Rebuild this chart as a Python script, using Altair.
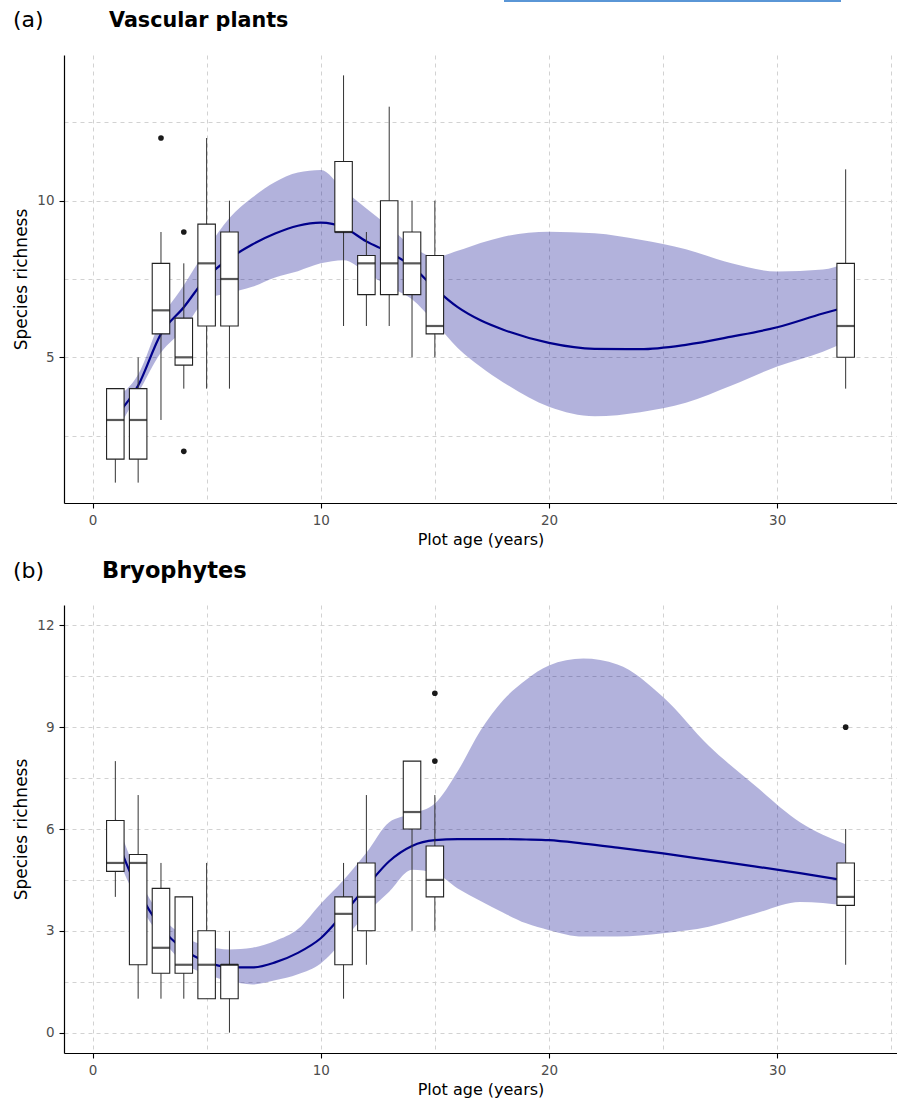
import altair as alt
import pandas as pd

# ---------------- Panel (a): Vascular plants ----------------
a_age = [1, 2, 3, 4, 5, 6, 11, 12, 13, 14, 15, 33]
a_wlo = [1, 1, 3, 4, 4, 4, 6, 6, 6, 5, 5, 4]
a_q1 = [1.75, 1.75, 5.75, 4.75, 6, 6, 9, 7, 7, 7, 5.75, 5]
a_med = [3, 3, 6.5, 5, 8, 7.5, 9, 8, 8, 8, 6, 6]
a_q3 = [4, 4, 8, 6.25, 9.25, 9, 11.25, 8.25, 10, 9, 8.25, 8]
a_whi = [4, 5, 9, 8, 12, 10, 14, 9, 13, 10, 10, 11]
a_out_age = [3, 4, 4]
a_out_val = [12, 9, 2]

a_fit_age = [1, 2, 3, 4, 5, 6, 7, 8, 9, 10, 11, 12, 13, 14, 15, 16, 17, 18,
             20, 22, 24, 26, 28, 30, 32, 33]
a_fit = [3.1, 4.1, 5.75, 6.6, 7.55, 8.15, 8.6, 8.95, 9.2, 9.3, 9.15, 8.7, 8.35,
         7.9, 7.2, 6.6, 6.18, 5.88, 5.46, 5.27, 5.26, 5.4, 5.66, 5.96, 6.4, 6.6]
a_fit_hi = [3.7, 4.45, 6.2, 7.3, 8.45, 9.45, 10.1, 10.6, 10.9, 10.98, 10.35,
            9.75, 9.17, 8.55, 8.2, 8.4, 8.65, 8.85, 9.01, 8.96, 8.75, 8.45,
            8.0, 7.74, 7.8, 8.0]
a_fit_lo = [2.55, 3.85, 5.15, 5.9, 6.85, 7.05, 7.25, 7.55, 7.75, 8.0, 8.1, 7.7,
            7.25, 6.85, 6.1, 5.3, 4.7, 4.2, 3.42, 3.12, 3.25, 3.55, 4.1,
            4.71, 5.18, 5.5]

# ---------------- Panel (b): Bryophytes ----------------
b_age = [1, 2, 3, 4, 5, 6, 11, 12, 14, 15, 33]
b_wlo = [4, 1, 1, 1, 1, 0, 1, 2, 3, 3, 2]
b_q1 = [4.75, 2, 1.75, 1.75, 1, 1, 2, 3, 6, 4, 3.75]
b_med = [5, 5, 2.5, 2, 2, 2, 3.5, 4, 6.5, 4.5, 4]
b_q3 = [6.25, 5.25, 4.25, 4, 3, 2, 4, 5, 8, 5.5, 5]
b_whi = [8, 7, 5, 4, 5, 3, 5, 7, 8, 7, 6]
b_out_age = [15, 15, 33]
b_out_val = [10, 8, 9]

b_fit_age = [1, 2, 3, 4, 5, 6, 7, 8, 9, 10, 11, 12, 13, 14, 15, 16, 17, 18,
             19, 20, 21.5, 23, 25, 27, 29, 31, 33]
b_fit = [5.8, 4.2, 3.1, 2.45, 2.08, 1.93, 1.92, 2.07, 2.35, 2.78, 3.51, 4.3,
         5.05, 5.5, 5.67, 5.7, 5.7, 5.7, 5.69, 5.67, 5.57, 5.45, 5.28, 5.09,
         4.9, 4.7, 4.48]
b_fit_hi = [6.35, 4.6, 3.45, 2.85, 2.55, 2.45, 2.5, 2.7, 3.05, 3.8, 4.5, 5.3,
            6.2, 6.45, 6.75, 7.7, 8.9, 9.8, 10.4, 10.82, 11.02, 10.85, 9.89,
            8.45, 7.3, 6.2, 5.55]
b_fit_lo = [5.3, 3.85, 2.8, 2.05, 1.72, 1.52, 1.42, 1.54, 1.72, 2.04, 2.73,
            3.51, 4.15, 4.8, 4.7, 4.25, 3.88, 3.53, 3.22, 3.02, 2.83, 2.83,
            2.93, 3.12, 3.5, 3.85, 3.75]

x_ticks = [0, 5, 10, 15, 20, 25, 30, 35]
a_y_ticks = [2.5, 5, 7.5, 10, 12.5]
b_y_ticks = [0, 1.5, 3, 4.5, 6, 7.5, 9, 10.5, 12]

FONT = "DejaVu Sans"
W, H = 833, 448
GRID = "#d2d2d2"
FILL = "#00008b"


def panel(box_age, wlo, q1, med, q3, whi, out_age, out_val,
          fage, fit, flo, fhi, ydom, yticks, ystep, tag, title,
          tag_size, title_size, title_x, base_y, extra=None):
    boxes = pd.DataFrame({"age": box_age, "wlo": wlo, "q1": q1, "med": med,
                          "q3": q3, "whi": whi})
    outs = pd.DataFrame({"age": out_age, "val": out_val})
    fits = pd.DataFrame({"age": fage, "fit": fit, "lo": flo, "hi": fhi})

    xs = alt.Scale(domain=[-1.03, 35.03], nice=False, zero=False)
    ys = alt.Scale(domain=ydom, nice=False, zero=False)

    x_axis = alt.Axis(
        values=x_ticks, grid=True, gridDash=[4, 4], gridColor=GRID,
        gridWidth=1, domainColor="black", domainWidth=1.2,
        tickColor="black", tickSize=5, tickWidth=1.1,
        tickOpacity={"condition": {"test": "datum.value % 10 === 0",
                                   "value": 1}, "value": 0},
        labelExpr="datum.value % 10 === 0 ? datum.label : ''",
        labelFont=FONT, labelFontSize=13.5, labelColor="#4d4d4d",
        labelPadding=5, title="Plot age (years)", titleFont=FONT,
        titleFontSize=16, titleFontWeight="normal", titleColor="black",
        titlePadding=5)
    y_axis = alt.Axis(
        values=yticks, grid=True, gridDash=[4, 4], gridColor=GRID,
        gridWidth=1, domainColor="black", domainWidth=1.2,
        tickColor="black", tickSize=5, tickWidth=1.1,
        tickOpacity={"condition": {"test": f"datum.value % {ystep} === 0",
                                   "value": 1}, "value": 0},
        labelExpr=f"datum.value % {ystep} === 0 ? datum.label : ''",
        labelFont=FONT, labelFontSize=13.5, labelColor="#4d4d4d",
        labelPadding=5, title="Species richness", titleFont=FONT,
        titleFontSize=17, titleFontWeight="normal", titleColor="black",
        titlePadding=6)

    band = alt.Chart(fits).mark_area(
        color=FILL, opacity=0.3, interpolate="monotone"
    ).encode(
        x=alt.X("age:Q", scale=xs, axis=x_axis),
        y=alt.Y("lo:Q", scale=ys, axis=y_axis),
        y2="hi:Q",
    )
    line = alt.Chart(fits).mark_line(
        color=FILL, strokeWidth=2.2, interpolate="monotone"
    ).encode(x="age:Q", y="fit:Q")
    whisk = alt.Chart(boxes).mark_rule(color="#333333", strokeWidth=1).encode(
        x="age:Q", y="wlo:Q", y2="whi:Q")
    box = alt.Chart(boxes).mark_bar(
        fill="white", stroke="#222222", strokeWidth=1.1, size=17.5
    ).encode(x="age:Q", y="q1:Q", y2="q3:Q")
    median = alt.Chart(boxes).mark_tick(
        orient="horizontal", color="#111111", size=17.5, thickness=2.2
    ).encode(x="age:Q", y="med:Q")
    outl = alt.Chart(outs).mark_circle(
        color="#1a1a1a", size=32, opacity=1
    ).encode(x="age:Q", y="val:Q")

    lab_df = pd.DataFrame({"t": [tag]})
    tag_t = alt.Chart(lab_df).mark_text(
        align="left", baseline="alphabetic", font=FONT, fontSize=tag_size,
        color="black"
    ).encode(text="t:N", x=alt.value(-51), y=alt.value(base_y))
    ttl_df = pd.DataFrame({"t": [title]})
    ttl_t = alt.Chart(ttl_df).mark_text(
        align="left", baseline="alphabetic", font=FONT, fontSize=title_size,
        fontWeight="bold", color="black"
    ).encode(text="t:N", x=alt.value(title_x), y=alt.value(base_y))

    layers = [band, line, whisk, box, median, outl, tag_t, ttl_t]
    if extra is not None:
        layers.append(extra)
    return alt.layer(*layers).properties(width=W, height=H)


# thin blue underline at the very top of the picture
top_rule = alt.Chart(pd.DataFrame({"k": [0]})).mark_rule(
    color="#5a96d6", strokeWidth=2
).encode(x=alt.value(440), x2=alt.value(777), y=alt.value(-54))

pa = panel(a_age, a_wlo, a_q1, a_med, a_q3, a_whi, a_out_age, a_out_val,
           a_fit_age, a_fit, a_fit_lo, a_fit_hi, [0.35, 14.65], a_y_ticks, 5,
           "(a)", "Vascular plants", 22, 20.7, 45, -28.5, extra=top_rule)
pb = panel(b_age, b_wlo, b_q1, b_med, b_q3, b_whi, b_out_age, b_out_val,
           b_fit_age, b_fit, b_fit_lo, b_fit_hi, [-0.6, 12.6], b_y_ticks, 3,
           "(b)", "Bryophytes", 22, 22.5, 38, -27)

chart = alt.vconcat(pa, pb, spacing=12).properties(
    padding={"left": 12, "top": 0, "right": 0, "bottom": 0},
    background="white",
).configure_view(strokeWidth=0)

chart.save("out.html", embed_options={"renderer": "svg", "actions": False})
